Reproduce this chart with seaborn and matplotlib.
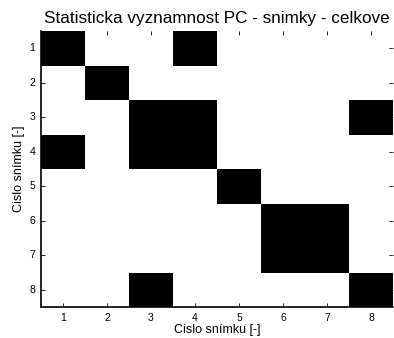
import matplotlib
matplotlib.use("Agg")
import matplotlib.pyplot as plt
import seaborn as sns
import numpy as np

labels = [1, 2, 3, 4, 5, 6, 7, 8]
row1 = [1, 0, 0, 1, 0, 0, 0, 0]
row2 = [0, 1, 0, 0, 0, 0, 0, 0]
row3 = [0, 0, 1, 1, 0, 0, 0, 1]
row4 = [1, 0, 1, 1, 0, 0, 0, 0]
row5 = [0, 0, 0, 0, 1, 0, 0, 0]
row6 = [0, 0, 0, 0, 0, 1, 1, 0]
row7 = [0, 0, 0, 0, 0, 1, 1, 0]
row8 = [0, 0, 1, 0, 0, 0, 0, 1]
matrix = np.array([row1, row2, row3, row4, row5, row6, row7, row8])

plt.rcParams['font.family'] = ['Liberation Sans', 'DejaVu Sans']

fig = plt.figure(figsize=(3.94, 3.38), dpi=100)
ax = fig.add_axes([41/394, 1 - 307/338, 352/394, 276/338])
sns.heatmap(matrix, cmap="binary", vmin=0, vmax=1, cbar=False, ax=ax,
            xticklabels=labels, yticklabels=labels, square=False)
ax.set_position([41/394, 1 - 307/338, 352/394, 276/338])
ax.set_title("Statisticka vyznamnost PC - snimky - celkove", fontsize=12.3, pad=6)
ax.set_xlabel("Cislo snímku [-]", fontsize=9, labelpad=1)
ax.set_ylabel("Cislo snímku [-]", fontsize=9, labelpad=3)
ax.tick_params(axis='both', direction='in', length=3, width=0.6, labelsize=7.5,
               top=True, right=True, pad=4)
plt.setp(ax.get_yticklabels(), rotation=0)
plt.setp(ax.get_xticklabels(), rotation=0)
for side in ['left', 'bottom']:
    ax.spines[side].set_visible(True)
    ax.spines[side].set_linewidth(1.2)
    ax.spines[side].set_color('black')
for side in ['top', 'right']:
    ax.spines[side].set_visible(False)
fig.savefig("out.png", dpi=100)
